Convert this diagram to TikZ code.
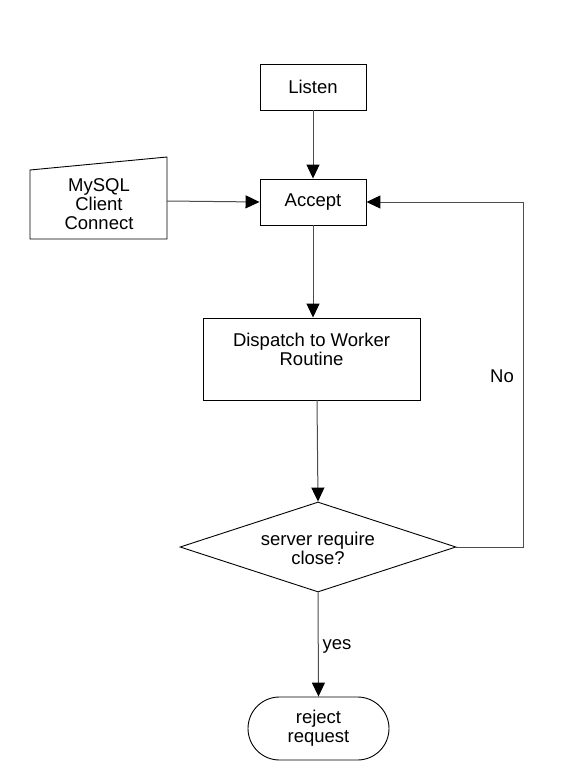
\documentclass[tikz,border=0pt]{standalone}
\usepackage{fontspec}
\setmainfont{Liberation Sans}
\usetikzlibrary{arrows.meta,shapes.geometric,shapes.misc}
\begin{document}
\begin{tikzpicture}[x=1pt,y=-1pt,
  every node/.style={font=\fontsize{18.5}{19}\selectfont, align=center},
  proc/.style={draw, line width=0.9pt, inner sep=0pt},
  conn/.style={draw=black!70, line width=1pt, -{Triangle[length=14pt,width=13pt,color=black]}},
  plain/.style={draw=black!70, line width=1pt}]
\useasboundingbox (0,0) rectangle (567,768);
\node[proc, minimum width=106pt, minimum height=46pt] (listen) at (313,87) {Listen};
\node[proc, minimum width=106pt, minimum height=46pt] (accept) at (313,202) {Accept};
% manual input
\draw[line width=0.9pt] (30,170) -- (167,157) -- (167,239) -- (30,239) -- cycle;
\node (mysql) at (99,204) {MySQL\\Client\\Connect};
\coordinate (mright) at (167,201);
\node[proc, minimum width=217pt, minimum height=82pt] (disp) at (311.5,359) {};
\node (disptext) at (311.5,349) {Dispatch to Worker\\Routine};
\node[proc, diamond, minimum width=276pt, minimum height=90pt, aspect=3] (dec) at (318,547) {};
\node at (318,548) {server require\\close?};
\node[proc, rounded rectangle, minimum width=141pt, minimum height=63pt] (rej) at (318.5,728.5) {reject\\request};
\draw[conn] (listen) -- (accept);
\draw[conn] (mright) -- (accept.west);
\draw[conn] (accept) -- (accept |- disp.north);
\draw[conn] (317,400) -- (dec.north);
\draw[conn] (dec.east) -- (523,547) -- (523,202) -- (accept.east);
\draw[conn] (dec.south) -- (rej.north);
\node at (502,376) {No};
\node at (337,646) {yes};
\end{tikzpicture}
\end{document}
